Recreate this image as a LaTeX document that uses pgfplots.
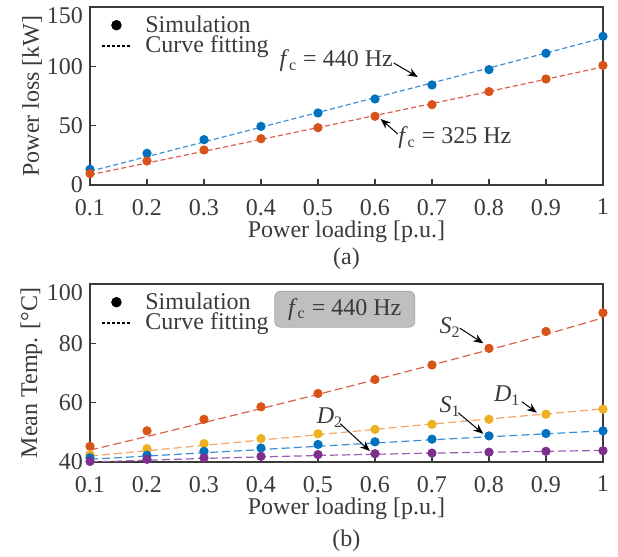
\documentclass[border=0pt]{standalone}
\usepackage{pgfplots}
\pgfplotsset{compat=1.18}
\usepackage{fontspec}
\setmainfont{Liberation Serif}
\usetikzlibrary{arrows.meta}

\definecolor{mblue}{HTML}{0072BD}
\definecolor{mred}{HTML}{D95319}
\definecolor{myellow}{HTML}{EDB120}
\definecolor{mpurple}{HTML}{7E2F8E}
\definecolor{lblue}{HTML}{3C8FD6}
\definecolor{lred}{HTML}{D9604A}
\definecolor{lorange}{HTML}{F4A468}
\definecolor{lpurple}{HTML}{9A5CB4}
\definecolor{axgray}{HTML}{3A3A3A}
\definecolor{boxfill}{HTML}{BFBFBF}

\newcommand{\fs}{\fontsize{12}{12.5}\selectfont}
\newcommand{\lowtop}[1]{\raisebox{-8.5pt}[0pt][0pt]{#1}}

\pgfplotsset{
  panel/.style={
    width=256.5pt, height=89pt, scale only axis,
    xmin=0.1, xmax=1, xtick={0.1,0.2,...,1.0},
    xticklabels={0.1,0.2,0.3,0.4,0.5,0.6,0.7,0.8,0.9,1},
    tick align=inside, xtick pos=bottom, ytick pos=left,
    major tick length=3pt,
    axis line style={axgray, line width=0.7pt},
    every tick/.style={axgray, line width=0.6pt},
    tick label style={font=\fs, text=axgray},
    xticklabel style={yshift=-3.5pt},
    label style={font=\fs, text=axgray},
    xlabel shift=-4pt,
    ylabel shift=-4.5pt,
    /pgf/number format/assume math mode=true,
    xlabel={Power loading [p.u.]},
    legend style={draw=none, fill=none, at={(0.01,1.0)}, anchor=north west,
      font=\fs, text=axgray, row sep=-3.5pt,
      legend cell align=left,
      /tikz/every odd column/.style={column sep=5pt}},
  },
  sim/.style={only marks, mark=*, mark size=2.1pt},
  fit/.style={line width=0.6pt, dash pattern=on 2.5pt off 1.5pt},
  fitb/.style={line width=0.6pt, dash pattern=on 4pt off 2pt},
  legsim/.style={legend image code/.code={\fill[black] (0.25cm,0) circle (2.4pt);}},
  legfit/.style={legend image code/.code={\draw[black, line width=0.7pt, dash pattern=on 1.5pt off 1pt] (0,0) -- (0.5cm,0);}},
}

\begin{document}
\begin{tikzpicture}
\useasboundingbox (-45pt,-47.5pt) rectangle (264pt,231pt);

% (a) power loss
\begin{axis}[panel, name=a, at={(0,138.5pt)}, anchor=south west,
  ymin=0, ymax=150, ytick={0,50,100,150},
  yticklabels={0,50,100,\lowtop{150}}, ylabel={Power loss [kW]}]
\addlegendimage{legsim}
\addlegendimage{legfit}
\legend{Simulation, Curve fitting}
% fc = 440 Hz
\addplot[fit, lblue] coordinates {(0.1,11.6) (0.2,23.9) (0.3,36.3) (0.4,48.7) (0.5,61.1) (0.6,73.6) (0.7,86.0) (0.8,98.6) (0.9,111.2) (1.0,123.9)};
\addplot[sim, mblue] coordinates {(0.1,13.2) (0.2,26.7) (0.3,38.2) (0.4,49.4) (0.5,60.7) (0.6,72.5) (0.7,84.3) (0.8,97.2) (0.9,111.0) (1.0,125.3)};
% fc = 325 Hz
\addplot[fit, lred] coordinates {(0.1,8.6) (0.2,18.5) (0.3,28.4) (0.4,38.4) (0.5,48.4) (0.6,58.5) (0.7,68.6) (0.8,78.8) (0.9,89.1) (1.0,99.5)};
\addplot[sim, mred] coordinates {(0.1,9.6) (0.2,20.2) (0.3,29.5) (0.4,39.0) (0.5,48.3) (0.6,57.9) (0.7,67.7) (0.8,78.7) (0.9,89.3) (1.0,100.8)};
\node[font=\fs, text=axgray] at (axis cs:0.532,104.5) {\textit{f}\textsubscript{c} = 440 Hz};
\draw[-{Stealth[length=5pt,width=4pt]}, black, line width=0.5pt] (axis cs:0.633,102.8) -- (axis cs:0.675,91);
\node[font=\fs, text=axgray] at (axis cs:0.740,39.6) {\textit{f}\textsubscript{c} = 325 Hz};
\draw[-{Stealth[length=5pt,width=4pt]}, black, line width=0.5pt] (axis cs:0.640,43) -- (axis cs:0.610,55.6);
\end{axis}
\node[font=\fs, text=axgray] at ([yshift=-37pt]a.south) {(a)};

% (b) mean temperature
\begin{axis}[panel, name=b, at={(0,0)}, anchor=south west,
  ymin=40, ymax=100, ytick={40,60,80,100},
  yticklabels={40,60,80,\lowtop{100}}, ylabel={Mean Temp. [°C]}]
\addlegendimage{legsim}
\addlegendimage{legfit}
\legend{Simulation, Curve fitting}
% S2
\addplot[fitb, lred] coordinates {(0.1,44.0) (0.2,48.6) (0.3,53.3) (0.4,58.0) (0.5,62.8) (0.6,67.7) (0.7,72.7) (0.8,77.8) (0.9,83.0) (1.0,88.6)};
\addplot[sim, mred] coordinates {(0.1,45.3) (0.2,50.5) (0.3,54.4) (0.4,58.6) (0.5,63.1) (0.6,67.8) (0.7,72.7) (0.8,78.3) (0.9,84.0) (1.0,90.3)};
% D1
\addplot[fitb, lorange] coordinates {(0.1,42.0) (0.2,43.8) (0.3,45.6) (0.4,47.4) (0.5,49.2) (0.6,51.0) (0.7,52.8) (0.8,54.5) (0.9,56.2) (1.0,57.9)};
\addplot[sim, myellow] coordinates {(0.1,42.5) (0.2,44.5) (0.3,46.2) (0.4,47.9) (0.5,49.5) (0.6,51.0) (0.7,52.7) (0.8,54.4) (0.9,56.1) (1.0,57.8)};
% S1
\addplot[fitb, lblue] coordinates {(0.1,40.9) (0.2,42.0) (0.3,43.1) (0.4,44.2) (0.5,45.3) (0.6,46.4) (0.7,47.5) (0.8,48.5) (0.9,49.5) (1.0,50.5)};
\addplot[sim, mblue] coordinates {(0.1,41.4) (0.2,42.3) (0.3,43.6) (0.4,44.7) (0.5,45.9) (0.6,46.8) (0.7,47.7) (0.8,48.8) (0.9,49.6) (1.0,50.5)};
% D2
\addplot[fitb, lpurple] coordinates {(0.1,40.0) (0.2,40.6) (0.3,41.2) (0.4,41.7) (0.5,42.2) (0.6,42.6) (0.7,43.0) (0.8,43.3) (0.9,43.6) (1.0,43.9)};
\addplot[sim, mpurple] coordinates {(0.1,40.2) (0.2,40.9) (0.3,41.4) (0.4,41.9) (0.5,42.5) (0.6,42.8) (0.7,43.0) (0.8,43.3) (0.9,43.6) (1.0,43.8)};
\node[draw=gray!70, fill=boxfill, rounded corners=3pt, minimum width=70pt, minimum height=18pt,
  font=\fs, text=axgray] at (axis cs:0.547,91.5) {\textit{f}\textsubscript{c} = 440 Hz};
\node[font=\fs, text=axgray] at (axis cs:0.732,85.4) {\textit{S}\textsubscript{2}};
\draw[-{Stealth[length=5pt,width=4pt]}, black, line width=0.5pt] (axis cs:0.749,85.1) -- (axis cs:0.790,80.0);
\node[font=\fs, text=axgray] at (axis cs:0.832,62.4) {\textit{D}\textsubscript{1}};
\draw[-{Stealth[length=5pt,width=4pt]}, black, line width=0.5pt] (axis cs:0.858,60.3) -- (axis cs:0.884,56.6);
\node[font=\fs, text=axgray] at (axis cs:0.732,58.6) {\textit{S}\textsubscript{1}};
\draw[-{Stealth[length=5pt,width=4pt]}, black, line width=0.5pt] (axis cs:0.746,56.6) -- (axis cs:0.790,49.5);
\node[font=\fs, text=axgray] at (axis cs:0.521,54.9) {\textit{D}\textsubscript{2}};
\draw[-{Stealth[length=5pt,width=4pt]}, black, line width=0.5pt] (axis cs:0.539,52.9) -- (axis cs:0.591,43.7);
\end{axis}
\node[font=\fs, text=axgray] at ([yshift=-39.5pt]b.south) {(b)};
\end{tikzpicture}
\end{document}
